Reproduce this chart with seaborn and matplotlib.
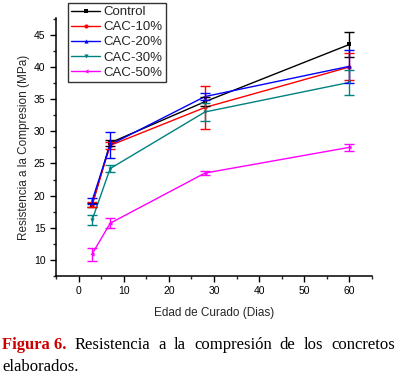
import matplotlib
matplotlib.use("Agg")
import matplotlib.pyplot as plt
import seaborn as sns
import pandas as pd

days = [3, 7, 28, 60]
series = ["Control", "CAC-10%", "CAC-20%", "CAC-30%", "CAC-50%"]
control = [18.5, 28.2, 34.6, 43.5]
cac10 = [18.6, 27.8, 33.7, 40.0]
cac20 = [19.2, 27.9, 35.4, 40.1]
cac30 = [16.2, 24.2, 33.0, 37.6]
cac50 = [10.9, 15.7, 23.5, 27.5]
err_control = [0.3, 0.5, 0.7, 1.9]
err_cac10 = [0.4, 0.6, 3.3, 2.1]
err_cac20 = [0.5, 2.0, 0.5, 2.6]
err_cac30 = [0.8, 0.6, 1.4, 1.9]
err_cac50 = [1.0, 0.8, 0.3, 0.5]

means = [control, cac10, cac20, cac30, cac50]
errs = [err_control, err_cac10, err_cac20, err_cac30, err_cac50]
colors = ["black", "#ff0000", "#0000ff", "#008080", "#ff00ff"]
markers = ["s", "o", "^", "v", "<"]

rows = []
for name, vals, ee in zip(series, means, errs):
    for d, v, e in zip(days, vals, ee):
        rows.append({"dias": d, "mpa": v, "err": e, "serie": name})
df = pd.DataFrame(rows)

sns.set_style("ticks")
plt.rcParams['font.family'] = ['Liberation Sans', 'DejaVu Sans']

fig = plt.figure(figsize=(3.97, 3.77), dpi=100)
ax = fig.add_axes([0.141, 0.268, 0.796, 0.684])

sns.lineplot(data=df, x="dias", y="mpa", hue="serie", style="serie",
             hue_order=series, style_order=series, palette=colors,
             markers=markers, dashes=False, markersize=3, linewidth=1,
             markeredgewidth=0, ax=ax, errorbar=None)

for name, c in zip(series, colors):
    sub = df[df.serie == name]
    ax.errorbar(sub.dias, sub.mpa, yerr=sub.err, fmt="none", ecolor=c,
                elinewidth=1, capsize=3.5, capthick=1)

ax.set_xlim(-5, 65)
ax.set_ylim(7.5, 47.6)
ax.set_xticks(range(0, 61, 10))
ax.set_xticks(range(-5, 66, 10), minor=True)
ax.set_yticks(range(10, 46, 5))
ax.set_yticks([7.5 + 5 * i for i in range(9)], minor=True)
ax.tick_params(axis="both", which="major", labelsize=7.5, length=4, width=1,
               direction="out", colors="black")
ax.tick_params(axis="both", which="minor", length=2.5, width=1, direction="out")
sns.despine(ax=ax)
for s in ["left", "bottom"]:
    ax.spines[s].set_linewidth(1.1)
    ax.spines[s].set_color("black")

ax.set_xlabel("Edad de Curado (Dias)", fontsize=8.5, labelpad=8)
ax.set_ylabel("Resistencia a la Compresion (MPa)", fontsize=8.5, labelpad=3)

leg = ax.legend(loc="upper left", bbox_to_anchor=(0.038, 1.06), fontsize=9.5,
                frameon=True, fancybox=False, edgecolor="black",
                handlelength=2.2, handletextpad=0.25, labelspacing=0.22,
                borderpad=0.25, borderaxespad=0)
leg.get_frame().set_linewidth(1)
leg.set_title(None)

# caption, justified over the full width
serif = ['Liberation Serif', 'DejaVu Serif']
line1 = ["Figura 6.", "Resistencia", "a", "la", "compresión", "de", "los", "concretos"]
y1, y2 = 0.073, 0.015
texts = []
for i, w in enumerate(line1):
    if i == 0:
        t = fig.text(0, y1, w, fontsize=12, family=serif, weight="bold", color="#cc0000")
    else:
        t = fig.text(0, y1, w, fontsize=12, family=serif, color="black")
    texts.append(t)
fig.text(0.005, y2, "elaborados.", fontsize=12, family=serif, color="black")

renderer = fig.canvas.get_renderer()
widths = [t.get_window_extent(renderer).width / fig.bbox.width for t in texts]
x_left, x_right = 0.005, 0.995
gap = (x_right - x_left - sum(widths)) / (len(texts) - 1)
x = x_left
for t, w in zip(texts, widths):
    t.set_x(x)
    x += w + gap

fig.savefig("out.png", dpi=100)
